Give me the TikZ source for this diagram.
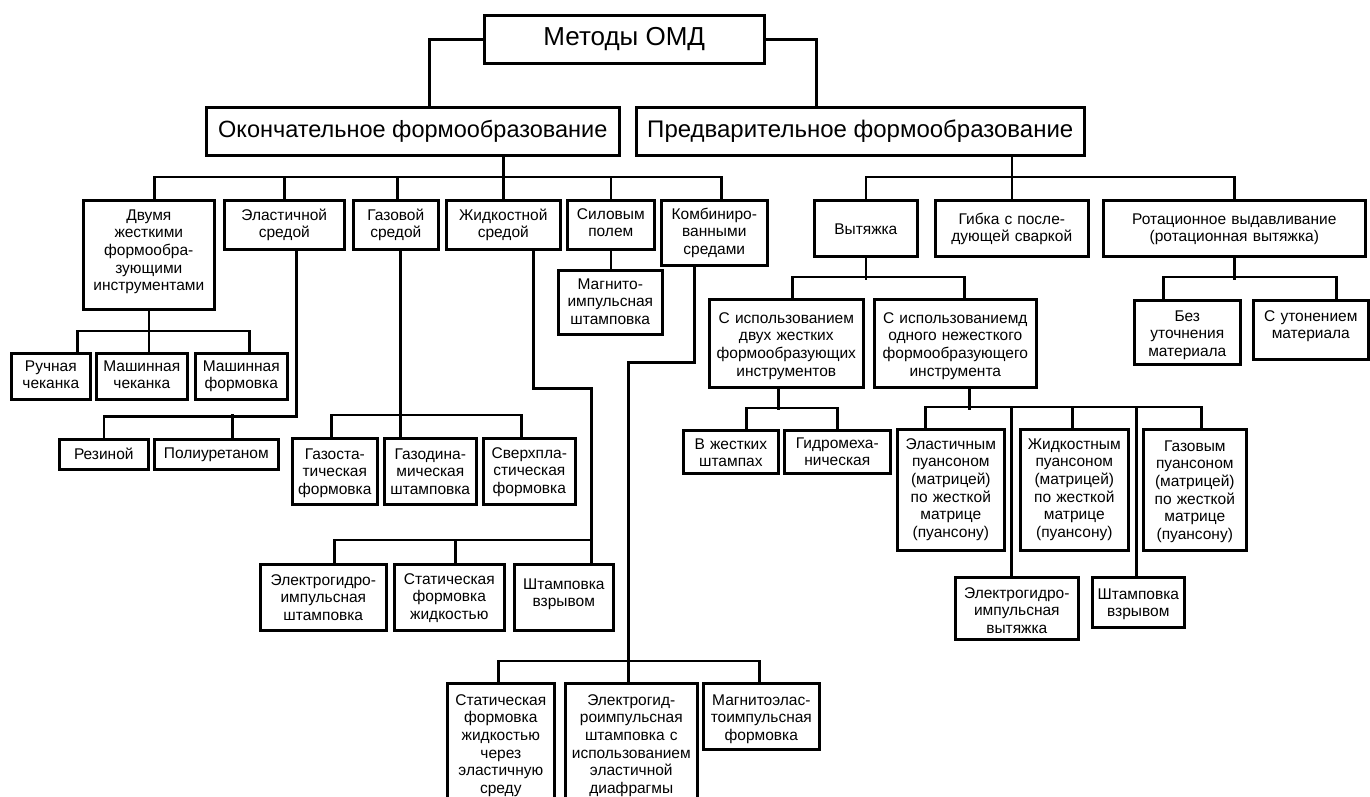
\documentclass[tikz,border=0pt]{standalone}
\usepackage{fontspec}
\setmainfont{Liberation Sans}
\tikzset{
  box/.style={draw, line width=2.6pt, inner xsep=0pt, inner ysep=0pt, align=center,
    font=\fontsize{15.5}{17.6}\selectfont, anchor=north west},
  big/.style={draw, line width=2.6pt, inner sep=0pt, anchor=north west},
  conn/.style={line width=2.6pt, line join=miter},
}
\newcommand\bx[7]{\node[box, text width=#4pt, text height=#5pt, text depth=#6pt] (#1) at (#2,#3) {#7};}
\begin{document}
\begin{tikzpicture}[x=1pt,y=-1pt]
\useasboundingbox (0,0) rectangle (1370,796);
\fill[white] (0,0) rectangle (1370,796);
\clip (0,0) rectangle (1370,796);
% top
\node[big, minimum width=280pt, minimum height=48pt, font=\fontsize{26}{30}\selectfont] (M) at (483,14) {Методы ОМД};
\node[big, minimum width=413pt, minimum height=48pt, font=\fontsize{23.5}{28}\selectfont] (OK) at (205,106) {Окончательное формообразование};
\node[big, minimum width=448pt, minimum height=48pt, font=\fontsize{24}{28}\selectfont] (PR) at (635,106) {Предварительное формообразование};
% level 2 left
\bx{dv}{82}{199}{131}{20}{89}{Двумя\\жесткими\\формообра-\\зующими\\инструментами}
\bx{el}{223}{199}{120}{20}{29}{Эластичной\\средой}
\bx{gz}{352}{199}{85}{20}{29}{Газовой\\средой}
\bx{zh}{445}{199}{114}{20}{29}{Жидкостной\\средой}
\bx{sl}{566}{199}{87}{19}{30}{Силовым\\полем}
\bx{km}{660}{199}{106}{19}{46}{Комбиниро-\\ванными\\средами}
% level 2 right
\bx{vt}{813}{199}{103}{34}{22}{Вытяжка}
\bx{gb}{934}{199}{153}{24}{32}{Гибка~с~после-\\дующей~сваркой}
\bx{rt}{1102}{199}{262}{24}{32}{Ротационное~выдавливание\\(ротационная~вытяжка)}
% level 3
\bx{ru}{10}{352}{79}{18}{28}{Ручная\\чеканка}
\bx{mc}{95}{352}{91}{18}{28}{Машинная\\чеканка}
\bx{mf}{194}{352}{92}{18}{28}{Машинная\\формовка}
\bx{rz}{58}{438}{89}{20}{10}{Резиной}
\bx{pu}{153}{438}{124}{19}{11}{Полиуретаном}
\bx{gs}{291}{437}{85}{21}{45}{Газоста-\\тическая\\формовка}
\bx{gd}{383}{437}{92}{21}{45}{Газодина-\\мическая\\штамповка}
\bx{sv}{482}{437}{92}{20}{46}{Сверхпла-\\стическая\\формовка}
\bx{mi}{557}{269}{104}{19}{45}{Магнито-\\импульсная\\штамповка}
\bx{eg}{259}{563}{126}{21}{45}{Электрогидро-\\импульсная\\штамповка}
\bx{sf}{393}{563}{110}{20}{46}{Статическая\\формовка\\жидкостью}
\bx{sh}{513}{563}{99}{25}{41}{Штамповка\\взрывом}
\bx{s2}{446}{682}{107}{22}{108}{Статическая\\формовка\\жидкостью\\через\\эластичную\\среду}
\bx{e2}{564}{682}{132}{22}{108}{Электрогид-\\роимпульсная\\штамповка~с\\использованием\\эластичной\\диафрагмы}
\bx{mg}{702}{682}{116}{22}{44}{Магнитоэлас-\\тоимпульсная\\формовка}
% drawing subtree
\bx{d2}{708}{298}{154}{24}{64}{С~использованием\\двух~жестких\\формообразующих\\инструментов}
\bx{o1}{873}{298}{162}{24}{64}{С~использованиемд\\одного~нежесткого\\формообразующего\\инструмента}
\bx{vj}{682}{429}{95}{19}{24}{В~жестких\\штампах}
\bx{gm}{783}{429}{106}{18}{25}{Гидромеха-\\ническая}
\bx{ep}{896}{428}{107}{20}{101}{Эластичным\\пуансоном\\(матрицей)\\по~жесткой\\матрице\\(пуансону)}
\bx{jp}{1019}{428}{108}{20}{101}{Жидкостным\\пуансоном\\(матрицей)\\по~жесткой\\матрице\\(пуансону)}
\bx{gp}{1142}{428}{103}{22}{99}{Газовым\\пуансоном\\(матрицей)\\по~жесткой\\матрице\\(пуансону)}
\bx{ev}{954}{576}{123}{21}{41}{Электрогидро-\\импульсная\\вытяжка}
\bx{sw}{1091}{576}{92}{22}{28}{Штамповка\\взрывом}
% rotation subtree
\bx{bz}{1133}{299}{106}{21}{43}{Без\\уточнения\\материала}
\bx{su}{1252}{299}{115}{21}{38}{С~утонением\\материала}
% connectors
\begin{scope}[conn]
\draw (M.west) -| ([xshift=16.5pt]OK.north);
\draw (M.east) -| ([xshift=-44pt]PR.north);
% final forming
\draw (OK.south -| zh.north) -- (zh.north);
\draw ([xshift=5.5pt]dv.north) -- ++(0,-22) -| ([xshift=7pt]km.north);
\draw (el.north) -- ++(0,-22);
\draw ([xshift=1.5pt]gz.north) -- ++(0,-22);
\draw (sl.north) -- ++(0,-22);
% preliminary forming
\draw (PR.south -| gb.north) -- (gb.north);
\draw (vt.north) -- ++(0,-22) -| (rt.north);
% two rigid tools
\draw (dv.south) -- (dv.south |- mc.north);
\draw ([xshift=26.5pt]ru.north) -- ++(0,-21) -| ([xshift=8pt]mf.north);
% elastic medium
\draw ([xshift=12pt]el.south) -- ++(0,166) -| (rz.north);
\draw ([xshift=16pt]pu.north) -- ++(0,-24);
% gas medium
\draw ([xshift=4.5pt]gz.south) -- ++(0,189);
\draw ([xshift=-3.5pt]gs.north) -- ++(0,-22) -| ([xshift=-8pt]sv.north);
% liquid medium
\draw ([xshift=30pt]zh.south) -- ++(0,138) -| ([xshift=27.5pt]sh.north);
\draw ([xshift=11pt]eg.north) -- ++(0,-23) -| ([xshift=27.5pt]sh.north);
\draw ([xshift=6pt]sf.north) -- ++(0,-23);
% force field
\draw (sl.south) -- (sl.south |- mi.north);
% combined media
\draw ([xshift=-20pt]km.south) -- ++(0,96) -| ([xshift=-3pt]e2.north);
\draw ([xshift=-2.5pt]s2.north) -- ++(0,-21) -| ([xshift=-2pt]mg.north);
% drawing
\draw (vt.south) -- ++(0,22);
\draw ([xshift=6pt]d2.north) -- ++(0,-21) -| ([xshift=9pt]o1.north);
\draw ([xshift=-8pt]d2.south) -- ++(0,21);
\draw ([xshift=15.5pt]vj.north) -- ++(0,-21) -| (gm.north);
\draw ([xshift=14pt]o1.south) -- ++(0,21);
\draw ([xshift=-25.5pt]ep.north) -- ++(0,-21) -| ([xshift=6.5pt]gp.north);
\draw ([xshift=-2pt]jp.north) -- ++(0,-21);
\draw ([xshift=-5.5pt]ev.north) -- ++(0,-169);
\draw ([xshift=-2pt]sw.north) -- ++(0,-169);
% rotation
\draw (rt.south) -- ++(0,22);
\draw ([xshift=-24pt]bz.north) -- ++(0,-22) -| ([xshift=25.5pt]su.north);
\end{scope}
\end{tikzpicture}
\end{document}
